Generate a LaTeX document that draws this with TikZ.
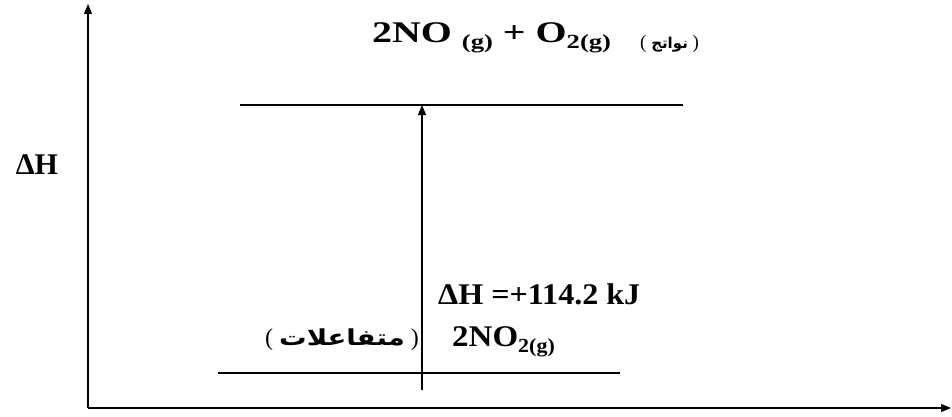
\documentclass[tikz,border=0pt]{standalone}
\usepackage{fontspec}
\setmainfont{Liberation Serif}
\newfontfamily\arabicfont[Script=Arabic]{DejaVu Sans}
\TeXXeTstate=1
\usetikzlibrary{arrows.meta}
\newcommand{\chsub}[1]{\raisebox{-6pt}{\fontsize{20}{20}\selectfont #1}}
\newcommand{\arword}[2]{\hbox{\arabicfont\bfseries\fontsize{#1}{#1}\selectfont\beginR #2\endR}}
\begin{document}
\begin{tikzpicture}[x=1pt,y=1pt,
  axis/.style={line width=1.1pt,-{Triangle[length=10pt,width=8pt]}},
  level/.style={line width=1.1pt},
  deltaarrow/.style={line width=1.1pt,-{Triangle[length=10pt,width=8pt]}},
  chem/.style={font=\bfseries\fontsize{30}{34}\selectfont,inner sep=0pt},
  arab/.style={font=\fontsize{19}{22}\selectfont,inner sep=0pt},
  arabbig/.style={font=\fontsize{24}{28}\selectfont,inner sep=0pt}]
\useasboundingbox (0,0) rectangle (952,416);
\fill[white] (0,0) rectangle (952,416);
% axes
\coordinate (O) at (88,8);
\coordinate (ytop) at (88,412);
\coordinate (xend) at (951,8);
\draw[axis] (O) -- (ytop);
\draw[axis] (O) -- (xend);
% levels
\coordinate (upL) at (240,311);
\coordinate (upR) at (683,311);
\coordinate (loL) at (218,43);
\coordinate (loR) at (620,43);
\draw[level] (upL) -- (upR);
\draw[level] (loL) -- (loR);
% delta H arrow
\coordinate (dhbot) at (422,26);
\coordinate (dhtop) at (422,311);
\draw[deltaarrow] (dhbot) -- (dhtop);
% texts
\node[chem,anchor=west] (prod) at (372,378) {\scalebox{1.33}[1]{2NO \chsub{(g)} + O\chsub{2(g)}}};
\node[arab,anchor=west] (prodlab) at (640,372) {(\ \arword{15}{نواتج}\ )};
\node[chem] (dh) at (37,251) {ΔH};
\node[chem,anchor=west] (dhval) at (438,122) {\scalebox{1.07}[1]{ΔH =+114.2 kJ}};
\node[chem,anchor=west] (react) at (452,74) {\scalebox{1.1}[1]{2NO\chsub{2(g)}}};
\node[arabbig,anchor=east] (reactlab) at (419,76) {(\hspace{6pt}\scalebox{1.25}[1]{\arword{22}{متفاعلات}}\hspace{6pt})};
\end{tikzpicture}
\end{document}
